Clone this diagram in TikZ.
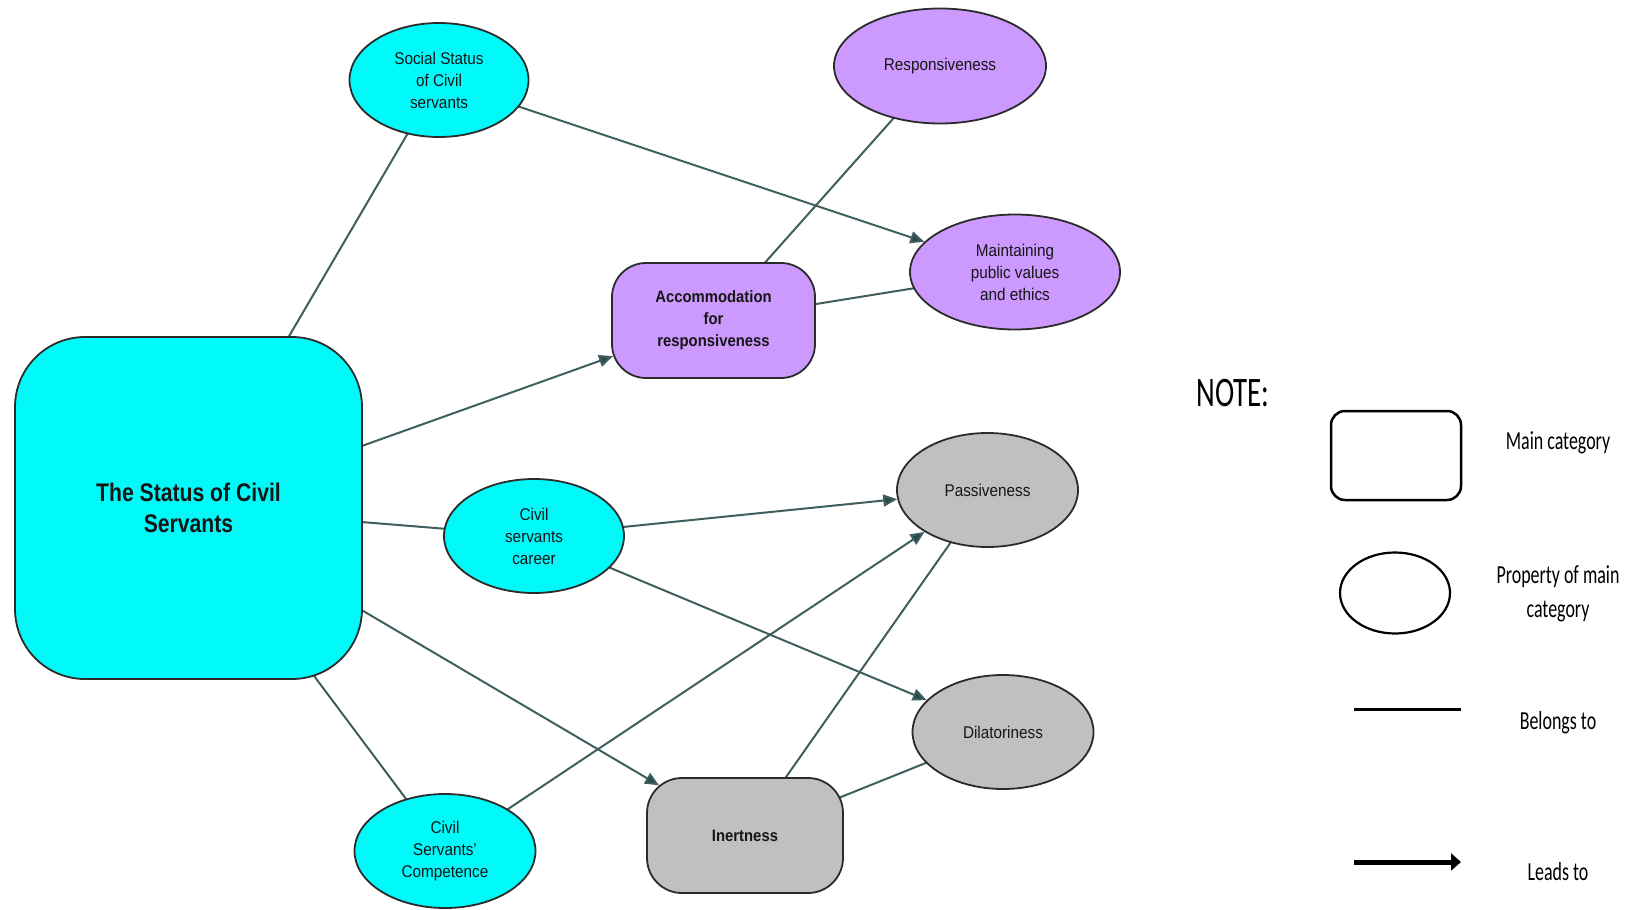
\documentclass[tikz,border=0pt]{standalone}
\usepackage{fontspec}
\setmainfont{Liberation Sans}[FakeStretch=0.9]
\newfontfamily\statusfont[FakeStretch=0.83]{Liberation Sans}
\newfontfamily\legendfont[FakeStretch=0.69]{Carlito}
\usetikzlibrary{shapes.geometric,arrows.meta}
\definecolor{cyanf}{HTML}{00FAFA}
\definecolor{purpf}{HTML}{CC99FF}
\definecolor{grayf}{HTML}{C0C0C0}
\definecolor{bordc}{HTML}{2B2B2B}
\definecolor{edgec}{HTML}{3F5E5E}
\definecolor{tipc}{HTML}{2A4848}
\definecolor{textc}{HTML}{161616}
\pgfdeclarelayer{bg}
\pgfsetlayers{bg,main}
\tikzset{
  prop/.style={ellipse, draw=bordc, line width=1.8pt, inner sep=0pt, align=center,
    text=textc, font=\fontsize{17}{22}\selectfont},
  catbox/.style={rectangle, draw=bordc, line width=1.8pt, inner sep=0pt, align=center,
    text=textc, font=\bfseries\fontsize{16.5}{22}\selectfont},
  belong/.style={draw=edgec, line width=2pt},
  lead/.style={draw=edgec, line width=2pt, -{Triangle[length=14pt,width=12pt,fill=tipc]}},
  legtext/.style={align=center, inner sep=0pt, text=black, font=\legendfont\fontsize{26}{34}\selectfont},
}
\begin{document}
\begin{tikzpicture}[x=1pt,y=-1pt]
\useasboundingbox (0,0) rectangle (1641,910);

% main category
\node[catbox, fill=cyanf, minimum width=347pt, minimum height=342pt, rounded corners=70pt,
  font=\statusfont\bfseries\fontsize{25.5}{31.5}\selectfont] (main) at (188.5,508) {The Status of Civil\\Servants};

% properties (cyan)
\node[prop, fill=cyanf, minimum width=179pt, minimum height=114pt] (soc) at (439,80) {Social Status\\of Civil\\servants};
\node[prop, fill=cyanf, minimum width=180pt, minimum height=114pt] (career) at (534,536) {Civil\\servants\\career};
\node[prop, fill=cyanf, minimum width=181pt, minimum height=114pt] (comp) at (445,851) {Civil\\Servants'\\Competence};

% purple group
\node[catbox, fill=purpf, minimum width=203pt, minimum height=115pt, rounded corners=34pt] (accom) at (713.5,320.5) {Accommodation\\for\\responsiveness};
\node[prop, fill=purpf, minimum width=212pt, minimum height=115pt] (resp) at (940,66) {Responsiveness};
\node[prop, fill=purpf, minimum width=210pt, minimum height=115pt] (maint) at (1015,272) {Maintaining\\public values\\and ethics};

% gray group
\node[catbox, fill=grayf, minimum width=196pt, minimum height=115pt, rounded corners=35pt] (inert) at (745,835.5) {Inertness};
\node[prop, fill=grayf, minimum width=181pt, minimum height=114pt] (pass) at (987.5,490) {Passiveness};
\node[prop, fill=grayf, minimum width=181pt, minimum height=114pt] (dil) at (1003,732) {Dilatoriness};

% connectors
\begin{pgfonlayer}{bg}
\path[belong] (main.center) -- (soc.center);
\path[belong] (main.center) -- (career.center);
\path[belong] (main.center) -- (comp.center);
\path[belong] (accom.center) -- (resp.center);
\path[belong] (accom.center) -- (maint.center);
\path[belong] (inert.center) -- (pass.center);
\path[belong] (inert.center) -- (dil.center);
\path[lead, shorten >=-2pt] (main.center) -- (accom);
\path[lead, shorten >=-15pt] (main.center) -- (inert);
\path[lead] (soc.center) -- (maint);
\path[lead] (career.center) -- (pass);
\path[lead] (career.center) -- (dil);
\path[lead] (comp.center) -- (pass);
\end{pgfonlayer}

% legend
\node[inner sep=0pt, text=black, font=\legendfont\fontsize{42}{42}\selectfont] (note) at (1233,393) {NOTE:};
\node[draw=black, line width=2.5pt, rounded corners=14pt, minimum width=130pt, minimum height=89pt] (legbox) at (1396,455.5) {};
\node[legtext] (legboxt) at (1558,443) {Main category};
\node[ellipse, draw=black, line width=2.2pt, minimum width=110pt, minimum height=81pt] (legell) at (1395,593) {};
\node[legtext] (legellt) at (1558,594) {Property of main\\category};
\coordinate (b1) at (1354,709);
\coordinate (b2) at (1461,709);
\draw[black, line width=3pt] (b1) -- (b2);
\node[legtext] (legbt) at (1558,723) {Belongs to};
\coordinate (l1) at (1354,862);
\coordinate (l2) at (1461,862);
\draw[black, line width=5pt, -{Triangle[length=10pt,width=17pt]}] (l1) -- (l2);
\node[legtext] (leglt) at (1558,871.5) {Leads to};
\end{tikzpicture}
\end{document}
